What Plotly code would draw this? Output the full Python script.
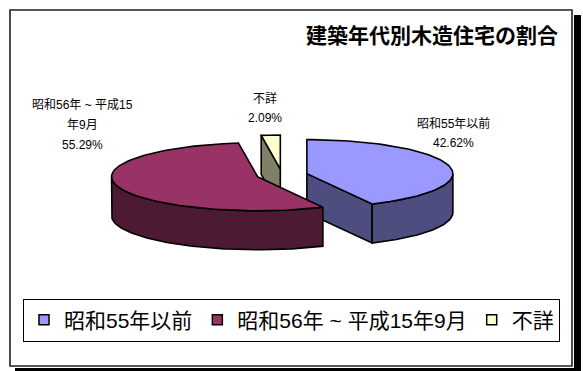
import numpy as np
import plotly.graph_objects as go

# ---------------- data ----------------
categories = ["昭和55年以前", "昭和56年 ~ 平成15年9月", "不詳"]
values = [42.62, 55.29, 2.09]
title_text = "建築年代別木造住宅の割合"

# ---------------- style ----------------
top_colors = ["#9999FF", "#993366", "#FFFFCC"]
side_colors = ["#4D4D80", "#4D1A33", "#808066"]
label_pos = [(453, 123), (82, 105), (265, 98)]   # first-line centre of each data label
LABEL_WRAP = 12
LINE_STEP = 20
W, H = 583, 371
CX, CY = 282, 175          # pie centre (pixel space)
RX, RY = 146, 34           # ellipse radii of the tilted pie
DEPTH = 39                 # pie thickness
EXPLODE = 0.175            # explosion fraction of radius
FONT = "Liberation Sans, Noto Sans CJK JP, sans-serif"

fig = go.Figure()

total = sum(values)
starts = np.concatenate([[0], np.cumsum(values)[:-1]]) / total * 360.0
ends = np.cumsum(values) / total * 360.0

slices = []
for i, v in enumerate(values):
    a, b = starts[i], ends[i]
    mid = np.radians((a + b) / 2)
    cx = CX + EXPLODE * RX * np.sin(mid)
    cy = CY - EXPLODE * RY * np.cos(mid)
    slices.append((i, a, b, cx, cy))


def rim(cx, cy, t_deg, dy=0.0):
    t = np.radians(t_deg)
    return cx + RX * np.sin(t), cy - RY * np.cos(t) + dy


def poly(xs, ys, fill):
    fig.add_trace(go.Scatter(
        x=list(xs) + [xs[0]], y=list(ys) + [ys[0]], mode="lines", fill="toself",
        fillcolor=fill, line=dict(color="black", width=1.6),
        hoverinfo="skip", showlegend=False))


# draw back-to-front
for i, a, b, cx, cy in sorted(slices, key=lambda s: s[4]):
    side = side_colors[i]
    # cut face at start angle
    if np.sin(np.radians(a)) < -1e-6:
        rx_, ry_ = rim(cx, cy, a)
        poly([cx, rx_, rx_, cx], [cy, ry_, ry_ + DEPTH, cy + DEPTH], side)
    # cut face at end angle
    if np.sin(np.radians(b)) > 1e-6:
        rx_, ry_ = rim(cx, cy, b)
        poly([cx, rx_, rx_, cx], [cy, ry_, ry_ + DEPTH, cy + DEPTH], side)
    # outer curved side (front half only)
    t0, t1 = max(a, 90.0), min(b, 270.0)
    if t1 > t0:
        ts = np.linspace(t0, t1, 80)
        xt, yt = rim(cx, cy, ts)
        xs = np.concatenate([xt, xt[::-1]])
        ys = np.concatenate([yt, (yt + DEPTH)[::-1]])
        poly(xs, ys, side)
    # top face
    ts = np.linspace(a, b, max(int((b - a) / 2), 4))
    xt, yt = rim(cx, cy, ts)
    poly(np.concatenate([[cx], xt]), np.concatenate([[cy], yt]), top_colors[i])

# legend entries
for i, c in enumerate(categories):
    fig.add_trace(go.Scatter(
        x=[None], y=[None], mode="markers", name=c,
        marker=dict(symbol="square", size=10, color=top_colors[i],
                    line=dict(color="black", width=1.5))))

# data labels
annotations = []
for i, c in enumerate(categories):
    name_lines = [c] if len(c) <= LABEL_WRAP + 1 else [c[:LABEL_WRAP], c[LABEL_WRAP:]]
    lines = name_lines + [f"{values[i]:.2f}%"]
    lx, ly = label_pos[i]
    for k, t in enumerate(lines):
        annotations.append(dict(
            x=lx, y=ly + k * LINE_STEP, xref="x", yref="y", text=t, showarrow=False,
            xanchor="center", yanchor="middle",
            font=dict(family=FONT, size=12, color="black")))

shapes = [
    dict(type="rect", xref="x", yref="y", x0=574, y0=15, x1=581, y1=371,
         fillcolor="black", line=dict(width=0)),
    dict(type="rect", xref="x", yref="y", x0=15, y0=368, x1=581, y1=371,
         fillcolor="black", line=dict(width=0)),
    dict(type="rect", xref="x", yref="y", x0=10, y0=10, x1=572, y1=366,
         line=dict(color="#222222", width=1.6)),
]

fig.update_layout(
    width=W, height=H, autosize=False,
    margin=dict(l=0, r=0, t=0, b=0),
    paper_bgcolor="white", plot_bgcolor="white",
    xaxis=dict(range=[0, W], visible=False, fixedrange=True),
    yaxis=dict(range=[H, 0], visible=False, fixedrange=True),
    title=dict(text=title_text, x=558 / W, xanchor="right", y=1 - 36 / H, yanchor="middle",
               font=dict(family="Noto Sans CJK JP", size=21, color="black", weight="bold")),
    legend=dict(orientation="h", x=0.5, xanchor="center", y=1 - 320 / H, yanchor="middle",
                bordercolor="black", borderwidth=1, bgcolor="white",
                font=dict(family=FONT, size=21, color="black"), itemwidth=30,
                traceorder="normal"),
    annotations=annotations,
    shapes=shapes,
    showlegend=True,
)

fig.write_html("out.html")
